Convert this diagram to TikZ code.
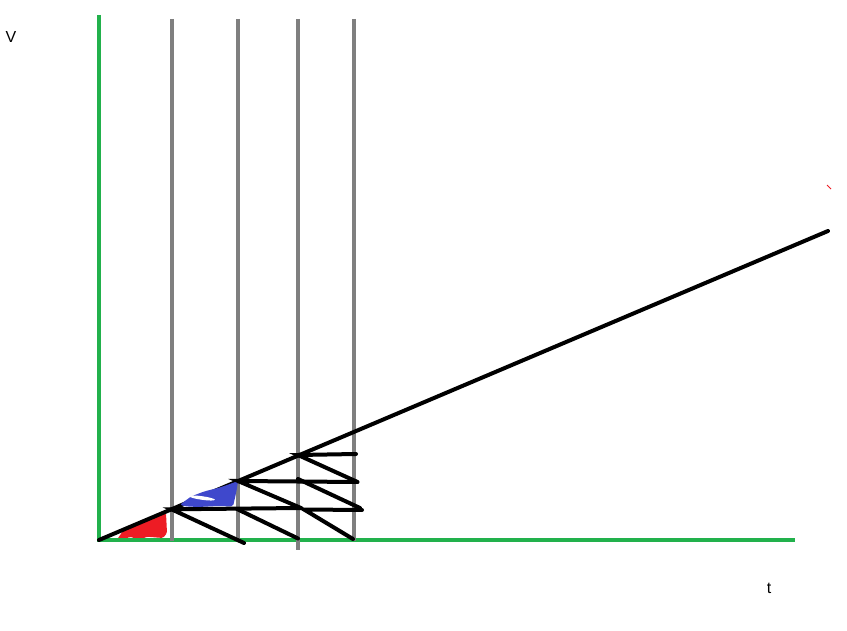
\documentclass[tikz,border=0pt]{standalone}
\usepackage{fontspec}
\setmainfont{Liberation Sans}
\usepackage{xcolor}
\usepackage{tikz}
\definecolor{axisgreen}{HTML}{22B14C}
\definecolor{gridgray}{HTML}{7F7F7F}
\definecolor{paintred}{HTML}{ED1C24}
\definecolor{paintblue}{HTML}{3F48CC}
\begin{document}
\begin{tikzpicture}[x=1pt,y=-1pt,
          every node/.style={font=\fontsize{16}{19}\selectfont,inner sep=0pt},
          axis/.style={axisgreen,line width=4.5pt},
          grid/.style={gridgray,line width=4pt},
          ray/.style={black,line width=4pt,line cap=round},
      ]
        \useasboundingbox (0,0) rectangle (847,631);
        \coordinate (o) at (99,540);
        \coordinate (ytop) at (99,15);
        \coordinate (xend) at (795,540);
        \coordinate (rend) at (828,231);
        \coordinate (a1) at (171.5,509.3);
        \coordinate (a2) at (238,481);
        \coordinate (a3) at (298,455);
        \coordinate (b1) at (301,508);
        \coordinate (b2) at (304,509.5);
        \coordinate (b3) at (237,509);
        \coordinate (b4) at (298,479);
        \node (vlab) at (11,37) {V};
        \node (tlab) at (769,588) {t};

        \fill[paintred,rounded corners=1.5pt] (116.7,540) -- (125,528) -- (136.7,525) -- (160,515)
          -- (166,513) -- (167,533) -- (163,538) -- (146.7,536.7) -- (140,540) -- (130,536.7)
          -- (123,540) -- cycle;
        \draw[paintred,line width=0.8pt] (827,185) -- (831,189);

        \draw[axis] (ytop) -- (o) -- (xend);
        \foreach \gx/\gb in {171.5/541,238/541,297.5/550,353.5/541}
          \draw[grid] (\gx,19) -- (\gx,\gb);
        \draw[ray] (o) -- (rend);

        \fill[paintblue,rounded corners=2pt] (180,504.7) -- (191.3,496.3) -- (204.7,491.3) -- (218,488)
          -- (228,484.7) -- (238,481) -- (236.5,491) -- (234.5,500) -- (233,506.5) -- (218,506)
          -- (198,507) -- (184.7,506.3) -- cycle;
        \fill[white,rotate around={-8:(202,498)}] (202,498) ellipse (13 and 1.8);

        \draw[ray] (244,543) -- (a1) -- (b1);
        \draw[ray] (b1) -- (a2) -- (357,482);
        \draw[ray] (b3) -- (298,538.5);
        \draw[ray] (356,454) -- (a3) -- (357.5,482);
        \draw[ray] (b4) -- (360,508);
        \draw[ray] (362,510) -- (b2) -- (353,539);
      \end{tikzpicture}
\end{document}
